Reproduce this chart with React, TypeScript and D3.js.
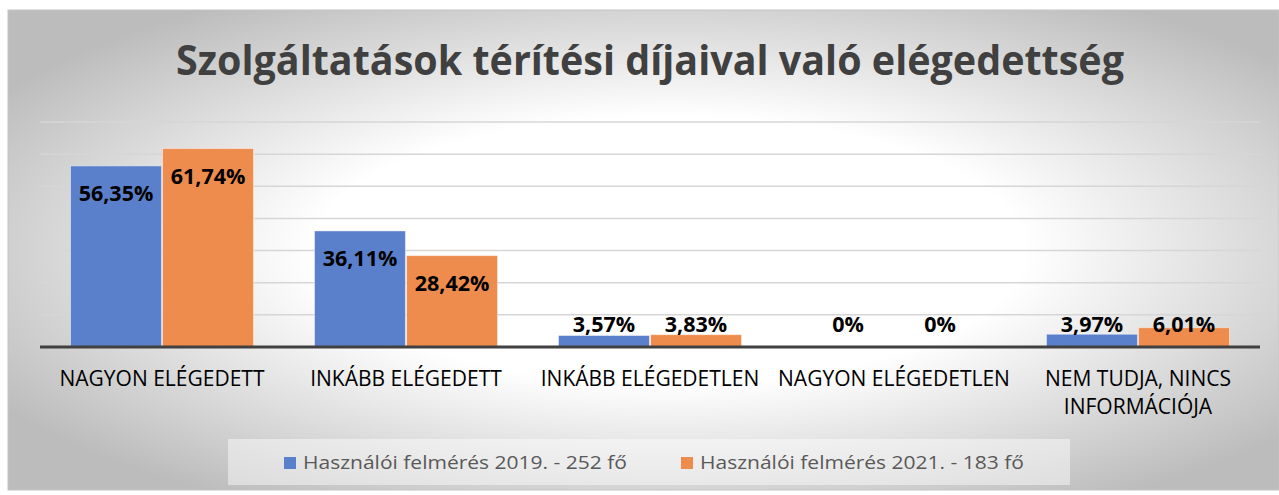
import React from 'react';
import * as d3 from 'd3';

const categories = [
  ['NAGYON ELÉGEDETT'],
  ['INKÁBB ELÉGEDETT'],
  ['INKÁBB ELÉGEDETLEN'],
  ['NAGYON ELÉGEDETLEN'],
  ['NEM TUDJA, NINCS', 'INFORMÁCIÓJA'],
];
const series2019 = [56.35, 36.11, 3.57, 0, 3.97];
const series2021 = [61.74, 28.42, 3.83, 0, 6.01];
const seriesNames = ['Használói felmérés 2019. - 252 fő', 'Használói felmérés 2021. - 183 fő'];
const colors = ['#5b80cb', '#ee8c4d'];
const gridTicks = [10, 20, 30, 40, 50, 60, 70];
const title = 'Szolgáltatások térítési díjaival való elégedettség';

const W = 1279;
const H = 495;
const font = "'Open Sans', 'Noto Sans', sans-serif";

export default function App() {
  const margin = { left: 40, right: 1260, top: 122, bottom: 347 };

  const x0 = d3.scaleBand<number>()
    .domain(d3.range(categories.length))
    .range([margin.left, margin.right])
    .paddingInner(0.25)
    .paddingOuter(0.125);

  const x1 = d3.scaleBand<number>()
    .domain([0, 1])
    .range([0, x0.bandwidth()])
    .paddingInner(0.012);

  const y = d3.scaleLinear().domain([0, 70]).range([margin.bottom, margin.top]);

  const fmt = (v: number) => (v === 0 ? '0%' : v.toFixed(2).replace('.', ',') + '%');

  const allSeries = [series2019, series2021];

  return (
    <svg width={W} height={H} style={{ position: 'absolute', left: 0, top: 0 }}>
      <defs>
        <radialGradient id="bg" cx="0.52" cy="0.5" r="0.62">
          <stop offset="0" stopColor="#ffffff" />
          <stop offset="0.45" stopColor="#ffffff" />
          <stop offset="1" stopColor="#bcbcbc" />
        </radialGradient>
      </defs>
      <rect x={0} y={0} width={W} height={H} fill="#ffffff" />
      <rect x={8} y={10} width={W - 8} height={480} fill="url(#bg)" stroke="#c4c4c4" strokeWidth={1} />

      <text x={650} y={75} textAnchor="middle" fontFamily={font} fontWeight={700}
        fontSize={42} fill="#404040" textLength={948} lengthAdjust="spacingAndGlyphs">{title}</text>

      {gridTicks.map(t => (
        <line key={t} x1={margin.left} x2={margin.right} y1={y(t)} y2={y(t)}
          stroke="#d6d6d6" strokeWidth={1.5} />
      ))}

      {allSeries.map((s, si) => s.map((v, ci) => {
        const bx = (x0(ci) as number) + (x1(si) as number);
        const top = y(v);
        const h = y(0) - top;
        const big = h > 40;
        return (
          <g key={`${si}-${ci}`}>
            {h > 0 && (
              <rect x={bx} y={top} width={x1.bandwidth()} height={h} fill={colors[si]}
                stroke="#ffffff" strokeOpacity={0.45} strokeWidth={1} />
            )}
            <text x={bx + x1.bandwidth() / 2} y={big ? top + 35 : y(0) - 15.5}
              textAnchor="middle" fontFamily={font} fontWeight={700} fontSize={21.5}
              fill="#000000">{fmt(v)}</text>
          </g>
        );
      }))}

      <line x1={margin.left} x2={margin.right} y1={y(0)} y2={y(0)} stroke="#404040" strokeWidth={3} />

      {categories.map((lines, ci) => (
        <text key={ci} textAnchor="middle" fontFamily={font} fontSize={21} fill="#000000">
          {lines.map((l, li) => (
            <tspan key={li} x={(x0(ci) as number) + x0.bandwidth() / 2} y={386 + li * 28}>{l}</tspan>
          ))}
        </text>
      ))}

      <rect x={228} y={439} width={842} height={46} fill="#ffffff" fillOpacity={0.45} />
      {seriesNames.map((n, i) => {
        const lx = i === 0 ? 284 : 681;
        return (
          <g key={n}>
            <rect x={lx} y={457} width={12} height={12} fill={colors[i]} />
            <text x={lx + 19} y={469} fontFamily={font} fontSize={19} fill="#595959"
              textLength={324} lengthAdjust="spacingAndGlyphs">{n}</text>
          </g>
        );
      })}
    </svg>
  );
}
